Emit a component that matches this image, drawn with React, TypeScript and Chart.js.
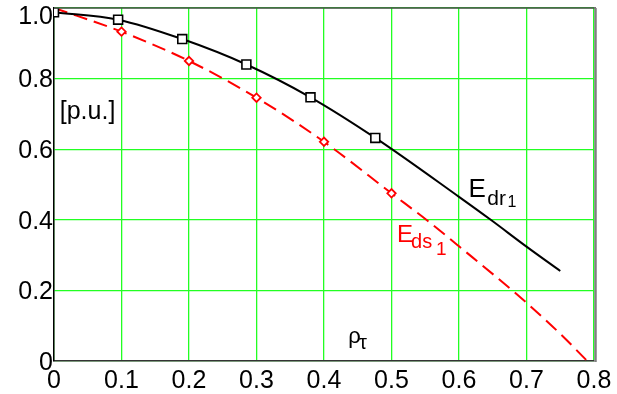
import React, { useEffect, useRef } from "react";
import { Chart, registerables } from "chart.js";

Chart.register(...registerables);

const FONT = "'Liberation Sans', Arial, Helvetica, sans-serif";

// E_dr1 curve (black, solid)
const edrX = [0, 0.095, 0.19, 0.285, 0.38, 0.476, 0.6, 0.647, 0.7, 0.75];
const edrY = [0.988, 0.967, 0.912, 0.84, 0.747, 0.632, 0.465, 0.4, 0.324, 0.255];
// E_dr1 square markers
const edrMarkX = [0, 0.095, 0.19, 0.285, 0.38, 0.476];
const edrMarkY = [0.988, 0.967, 0.912, 0.84, 0.747, 0.632];

// E_ds1 curve (red, dashed)
const edsX = [0, 0.1, 0.2, 0.3, 0.4, 0.5, 0.553, 0.6, 0.7, 0.75, 0.79];
const edsY = [1.0, 0.933, 0.85, 0.746, 0.621, 0.475, 0.398, 0.325, 0.165, 0.077, 0.0];
// E_ds1 diamond markers
const edsMarkX = [0, 0.1, 0.2, 0.3, 0.4, 0.5];
const edsMarkY = [1.0, 0.933, 0.85, 0.746, 0.621, 0.475];

const xMin = 0, xMax = 0.8, xStep = 0.1;
const yMin = 0, yMax = 1.0, yStep = 0.2;

const pts = (xs: number[], ys: number[]) => xs.map((x, i) => ({ x, y: ys[i] }));
const fmt = (v: number) => (Math.abs(v) < 1e-9 ? "0" : Number(v).toFixed(1));

export default function App() {
  const ref = useRef<HTMLCanvasElement>(null);

  useEffect(() => {
    const canvas = ref.current;
    if (!canvas) return;

    const overlay = {
      id: "overlay",
      afterDraw(chart: any) {
        const { ctx, chartArea: a, scales } = chart;
        const X = scales.x, Y = scales.y;
        const px = (v: number) => X.getPixelForValue(v);
        const py = (v: number) => Y.getPixelForValue(v);
        ctx.save();
        // top and right frame
        ctx.strokeStyle = "#4a4a4a";
        ctx.lineWidth = 1.5;
        ctx.beginPath();
        ctx.moveTo(a.left, a.top);
        ctx.lineTo(a.right + 2, a.top);
        ctx.stroke();
        ctx.strokeStyle = "#808080";
        ctx.lineWidth = 2.5;
        ctx.beginPath();
        ctx.moveTo(a.right + 1.5, a.top);
        ctx.lineTo(a.right + 1.5, a.bottom + 1);
        ctx.stroke();

        // top y tick label, kept inside the canvas as in the reference
        ctx.font = `25px ${FONT}`;
        ctx.fillStyle = "#000";
        ctx.textAlign = "right";
        ctx.textBaseline = "middle";
        ctx.fillText(fmt(yMax), a.left - 1, py(yMax) + 9);

        ctx.textBaseline = "alphabetic";
        ctx.textAlign = "left";
        const t = (s: string, x: number, y: number, size: number, color: string) => {
          ctx.font = `${size}px ${FONT}`;
          ctx.fillStyle = color;
          ctx.fillText(s, x, y);
        };
        // [p.u.]
        t("[p.u.]", px(0.0085), py(0.686), 25, "#000");
        // rho_tau
        t("ρ", px(0.436), py(0.05), 22, "#000");
        t("τ", px(0.452), py(0.034), 20, "#000");
        // E_dr1
        t("E", px(0.614), py(0.464), 26, "#000");
        t("dr", px(0.642), py(0.442), 21, "#000");
        t("1", px(0.672), py(0.435), 16, "#000");
        // E_ds1
        t("E", px(0.508), py(0.338), 24, "#ff0000");
        t("ds", px(0.529), py(0.32), 20, "#ff0000");
        t("1", px(0.566), py(0.30), 19, "#ff0000");
        ctx.restore();
      },
    };

    const chart = new Chart(canvas, {
      type: "line",
      data: {
        datasets: [
          {
            label: "Edr1 markers",
            data: pts(edrMarkX, edrMarkY),
            showLine: false,
            pointStyle: "rect",
            pointRadius: 6.3,
            borderColor: "#000",
            backgroundColor: "#fff",
            borderWidth: 1.6,
          },
          {
            label: "Eds1 markers",
            data: pts(edsMarkX, edsMarkY),
            showLine: false,
            pointStyle: "rectRot",
            pointRadius: 4.2,
            borderColor: "#ff0000",
            backgroundColor: "#fff",
            borderWidth: 1.8,
          },
          {
            label: "Edr1",
            data: pts(edrX, edrY),
            borderColor: "#000",
            borderWidth: 2,
            pointRadius: 0,
            cubicInterpolationMode: "monotone",
            fill: false,
          },
          {
            label: "Eds1",
            data: pts(edsX, edsY),
            borderColor: "#ff0000",
            borderWidth: 2,
            borderDash: [14, 7],
            pointRadius: 0,
            cubicInterpolationMode: "monotone",
            fill: false,
          },
        ],
      },
      options: {
        responsive: false,
        animation: false,
        events: [],
        layout: { padding: { top: 8, right: 23, left: 0, bottom: 0 } },
        plugins: { legend: { display: false }, tooltip: { enabled: false }, title: { display: false } },
        scales: {
          x: {
            type: "linear",
            min: xMin,
            max: xMax,
            border: { display: true, color: "#333", width: 1.5 },
            grid: { color: "#22ff22", lineWidth: 1.3, drawTicks: false },
            ticks: {
              stepSize: xStep,
              color: "#000",
              font: { family: FONT, size: 25 },
              padding: 5,
              maxRotation: 0,
              autoSkip: false,
              callback: (v: any) => fmt(Number(v)),
            },
            afterFit: (s: any) => {
              s.height = 33;
              s.paddingLeft = 0;
              s.paddingRight = 0;
            },
          },
          y: {
            type: "linear",
            min: yMin,
            max: yMax,
            border: { display: true, color: "#000", width: 1.5 },
            grid: { color: "#22ff22", lineWidth: 1.3, drawTicks: false },
            ticks: {
              stepSize: yStep,
              color: "#000",
              font: { family: FONT, size: 25 },
              padding: 1,
              labelOffset: 2,
              autoSkip: false,
              callback: (v: any) => (Math.abs(Number(v) - yMax) < 1e-9 ? "" : fmt(Number(v))),
            },
            afterFit: (s: any) => {
              s.width = 54;
              s.paddingTop = 0;
              s.paddingBottom = 0;
            },
          },
        },
      },
      plugins: [overlay],
    } as any);

    return () => chart.destroy();
  }, []);

  return (
    <div style={{ position: "absolute", left: 0, top: 0, width: 617, height: 394, background: "#fff" }}>
      <canvas ref={ref} width={617} height={394} style={{ display: "block" }} />
    </div>
  );
}
